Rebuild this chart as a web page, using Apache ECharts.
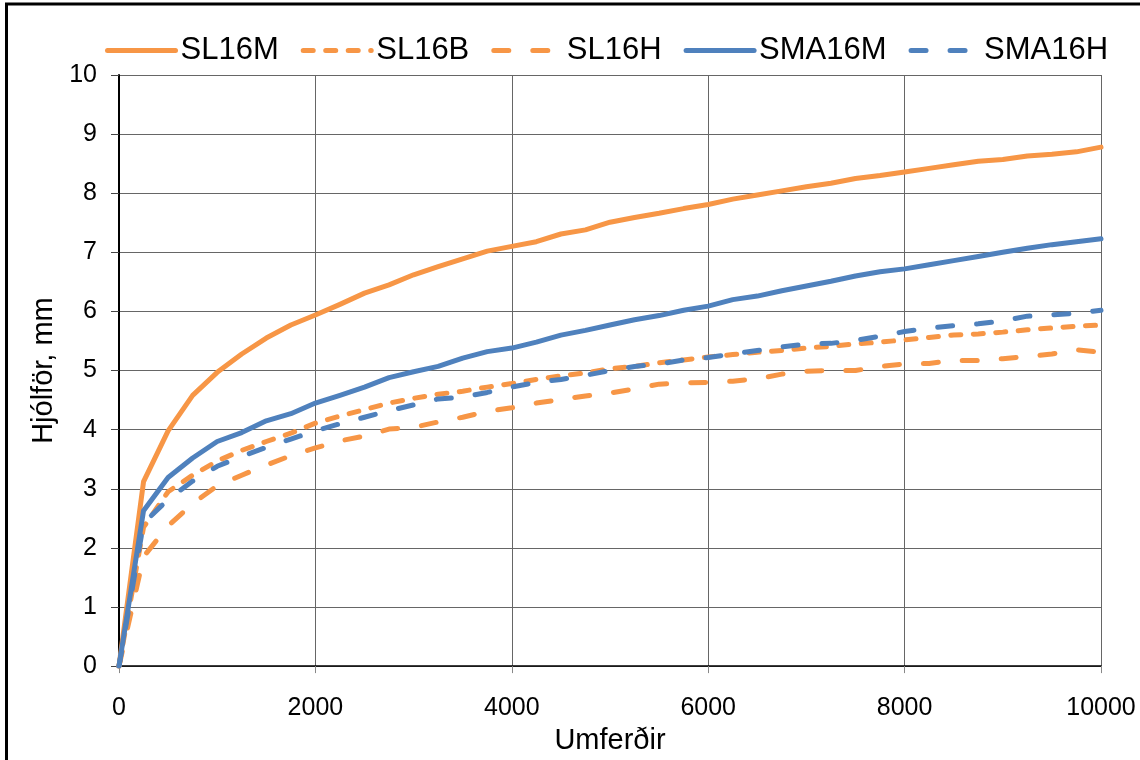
<!DOCTYPE html>
<html>
<head>
<meta charset="utf-8">
<title>Hjólför</title>
<script src="https://cdn.jsdelivr.net/npm/echarts@6/dist/echarts.min.js"></script>
<style>
  html, body { margin: 0; padding: 0; background: #fff; }
  #chart { width: 1140px; height: 760px; }
</style>
</head>
<body>
<div id="chart"></div>
<script>
// umferðir (x values)
const traffic = [
  0, 250, 500, 750, 1000, 1250, 1500, 1750, 2000, 2250,
  2500, 2750, 3000, 3250, 3500, 3750, 4000, 4250, 4500, 4750,
  5000, 5250, 5500, 5750, 6000, 6250, 6500, 6750, 7000, 7250,
  7500, 7750, 8000, 8250, 8500, 8750, 9000, 9250, 9500, 9750, 10000
]

const sl16m = [
  0, 3.12, 3.98, 4.58, 4.97, 5.28, 5.55, 5.77, 5.94, 6.12,
  6.31, 6.45, 6.62, 6.76, 6.89, 7.02, 7.10, 7.18, 7.31, 7.38,
  7.51, 7.59, 7.66, 7.74, 7.81, 7.90, 7.97, 8.04, 8.11, 8.17,
  8.25, 8.30, 8.36, 8.42, 8.48, 8.54, 8.57, 8.63, 8.66, 8.70, 8.78
]

const sl16b = [
  0, 2.35, 2.95, 3.23, 3.47, 3.65, 3.80, 3.94, 4.11, 4.23,
  4.34, 4.45, 4.53, 4.60, 4.65, 4.72, 4.78, 4.85, 4.91, 4.96,
  5.03, 5.07, 5.13, 5.18, 5.23, 5.27, 5.31, 5.34, 5.38, 5.41,
  5.45, 5.48, 5.52, 5.56, 5.60, 5.62, 5.65, 5.69, 5.72, 5.75, 5.77
]

const sl16h = [
  0, 1.85, 2.37, 2.75, 3.05, 3.23, 3.40, 3.56, 3.69, 3.81,
  3.89, 4.01, 4.04, 4.13, 4.21, 4.31, 4.37, 4.45, 4.51, 4.57,
  4.62, 4.69, 4.77, 4.79, 4.80, 4.82, 4.86, 4.94, 4.99, 5.00,
  5.00, 5.07, 5.11, 5.12, 5.17, 5.17, 5.20, 5.24, 5.28, 5.35, 5.31
]

const sma16m = [
  0, 2.63, 3.19, 3.52, 3.80, 3.95, 4.15, 4.27, 4.45, 4.58,
  4.72, 4.88, 4.98, 5.07, 5.21, 5.32, 5.38, 5.48, 5.60, 5.68,
  5.77, 5.86, 5.93, 6.02, 6.09, 6.20, 6.26, 6.35, 6.43, 6.51,
  6.60, 6.67, 6.72, 6.79, 6.86, 6.93, 7.00, 7.07, 7.13, 7.18, 7.23
]

const sma16h = [
  0, 2.42, 2.82, 3.13, 3.38, 3.55, 3.70, 3.84, 3.98, 4.10,
  4.21, 4.32, 4.42, 4.52, 4.55, 4.63, 4.72, 4.80, 4.85, 4.92,
  5.00, 5.07, 5.11, 5.18, 5.22, 5.28, 5.34, 5.40, 5.45, 5.46,
  5.51, 5.58, 5.66, 5.72, 5.76, 5.79, 5.84, 5.92, 5.94, 5.97, 6.02
]

const ORANGE = '#F79646'
const BLUE = '#4F81BD'
const FONT = "'Liberation Sans', Arial, sans-serif"
const LINE_W = 5

const pairs = (ys) => ys.map((y, i) => [traffic[i], y])

const makeSeries = (name, ys, color, dash) => ({
  name,
  type: 'line',
  data: pairs(ys),
  symbol: 'none',
  smooth: false,
  lineStyle: {
    color,
    width: LINE_W,
    type: dash || 'solid',
    cap: 'round',
    join: 'round'
  },
  itemStyle: { color }
})

const chart = echarts.init(document.getElementById('chart'))

chart.setOption({
  animation: false,
  backgroundColor: '#fff',
  textStyle: { fontFamily: FONT },
  legend: {
    left: 100,
    top: 30,
    itemWidth: 68,
    itemHeight: 14,
    itemGap: 22,
    itemStyle: { opacity: 0 },
    lineStyle: { width: LINE_W, cap: 'round' },
    textStyle: { fontSize: 31, color: '#000', fontFamily: FONT },
    data: ['SL16M', 'SL16B', 'SL16H', 'SMA16M', 'SMA16H']
  },
  grid: {
    left: 119,
    right: 39,
    top: 75,
    bottom: 89,
    containLabel: false
  },
  xAxis: {
    type: 'value',
    min: 0,
    max: 10000,
    interval: 2000,
    name: 'Umferðir',
    nameLocation: 'middle',
    nameGap: 56,
    nameTextStyle: { fontSize: 29, color: '#000', fontFamily: FONT },
    axisLine: { show: true, lineStyle: { color: '#000', width: 1.5 } },
    axisTick: { show: true, inside: false, length: 7, lineStyle: { color: '#888' } },
    axisLabel: {
      fontSize: 25,
      color: '#000',
      margin: 30,
      fontFamily: FONT,
      formatter: (v) => String(v)
    },
    splitLine: { show: true, lineStyle: { color: '#666', width: 1 } }
  },
  yAxis: {
    type: 'value',
    min: 0,
    max: 10,
    interval: 1,
    name: 'Hjólför, mm',
    nameLocation: 'middle',
    nameGap: 60,
    nameTextStyle: { fontSize: 29, color: '#000', fontFamily: FONT },
    axisLine: { show: true, lineStyle: { color: '#000', width: 2 } },
    axisTick: { show: true, inside: false, length: 8, lineStyle: { color: '#444' } },
    axisLabel: { fontSize: 25, color: '#000', margin: 22, fontFamily: FONT },
    splitLine: { show: true, lineStyle: { color: '#666', width: 1 } }
  },
  graphic: [
    {
      type: 'polyline',
      shape: { points: [[6.5, 760], [6.5, 4], [1140, 4]] },
      style: { stroke: '#000', lineWidth: 3, fill: null },
      silent: true
    }
  ],
  series: [
    makeSeries('SL16M', sl16m, ORANGE),
    makeSeries('SL16B', sl16b, ORANGE, [10, 12.5]),
    makeSeries('SL16H', sl16h, ORANGE, [15, 24]),
    makeSeries('SMA16M', sma16m, BLUE),
    makeSeries('SMA16H', sma16h, BLUE, [15, 24])
  ]
})

window.addEventListener('resize', () => chart.resize())
</script>
</body>
</html>
